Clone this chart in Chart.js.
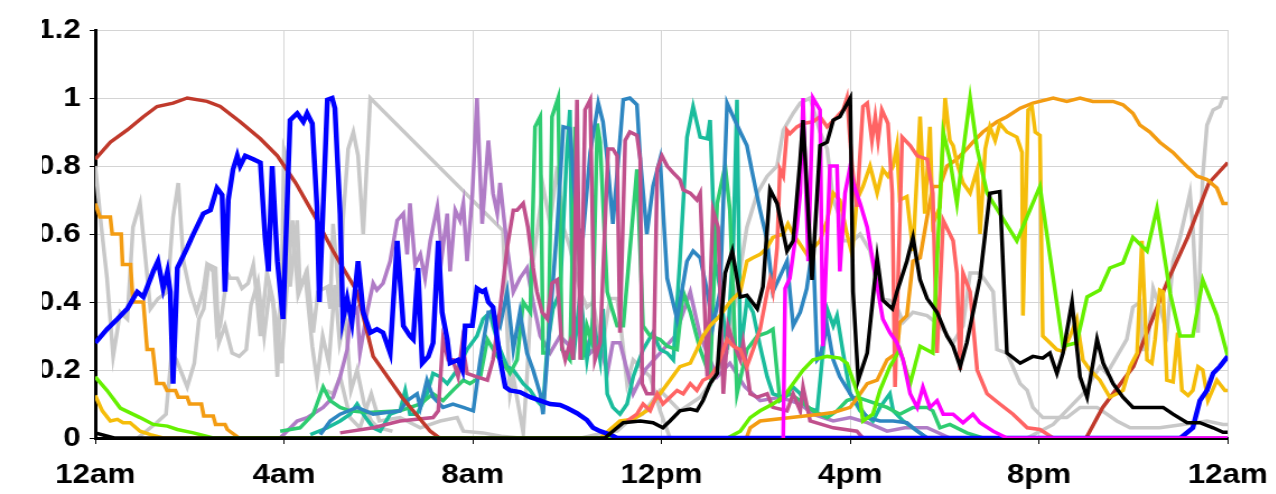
<!DOCTYPE html>
<html>
<head>
<meta charset="utf-8">
<script src="https://cdn.jsdelivr.net/npm/chart.js@4.4.0/dist/chart.umd.min.js"></script>
<style>
  html, body { margin: 0; padding: 0; background: #fff; }
  #wrap { position: absolute; left: 42px; top: 0; width: 1234px; height: 494px; overflow: hidden; }
  /* the source picture is a little wider than tall, so the drawing is stretched sideways */
  #chart { position: absolute; left: -42px; top: 0; transform: scaleX(1.12); transform-origin: 0 0; }
</style>
</head>
<body>
<div id="wrap"><canvas id="chart" width="1146" height="494"></canvas></div>
<script>
// hours of the day (0..24) and share values
var xTickLabels = ["12am", "4am", "8am", "12pm", "4pm", "8pm", "12am"];
var yTickLabels = ["0", "0.2", "0.4", "0.6", "0.8", "1", "1.2"];

var brown = [[0,0.82],[0.32,0.87],[0.68,0.906],[1.02,0.945],[1.31,0.975],[1.65,0.985],[1.95,1.0],[2.37,0.99],[2.65,0.975],
  [3.07,0.93],[3.5,0.88],[3.86,0.83],[4.25,0.75],[4.62,0.66],[5.04,0.55],[5.55,0.43],[5.89,0.24],[6.5,0.12],[7.1,0.02],[7.3,0],
  [21.0,0],[21.35,0.09],[22.0,0.21],[22.72,0.46],[23.15,0.59],[23.6,0.75],[24,0.81]];

var orange = [[0,0.69],[0.1,0.65],[0.32,0.65],[0.36,0.60],[0.55,0.60],[0.58,0.51],[0.75,0.51],[0.8,0.40],[1.02,0.40],[1.1,0.26],
  [1.22,0.26],[1.3,0.16],[1.45,0.16],[1.52,0.14],[1.7,0.14],[1.76,0.12],[1.95,0.12],[2.0,0.10],[2.25,0.10],[2.3,0.065],[2.5,0.065],
  [2.55,0.04],[2.75,0.04],[2.8,0.025],[3.05,0],[13.8,0],[13.88,0.03],[14.09,0.05],[15.36,0.07],[15.64,0.075],[16.0,0.09],[16.21,0.13],
  [16.36,0.16],[16.57,0.17],[16.78,0.23],[16.99,0.25],[17.05,0.34],[17.2,0.36],[17.33,0.52],[17.48,0.53],[17.63,0.65],[17.75,0.74],
  [17.9,0.74],[18.05,0.80],[18.26,0.82],[18.47,0.85],[18.6,0.87],[18.81,0.90],[19.11,0.93],[19.32,0.945],[19.6,0.97],[19.87,0.985],
  [20.3,1.0],[20.59,0.99],[20.87,1.0],[21.14,0.99],[21.57,0.99],[21.78,0.98],[21.99,0.955],[22.14,0.92],[22.35,0.90],[22.56,0.87],
  [22.84,0.84],[23.05,0.81],[23.35,0.77],[23.56,0.76],[23.77,0.735],[23.9,0.69],[24,0.69]];

var gold = [[0,0.125],[0.15,0.08],[0.32,0.05],[0.47,0.055],[0.59,0.045],[0.74,0.045],[0.95,0.02],[1.17,0.01],[1.44,0],[10.7,0],
  [11.12,0.05],[11.4,0.055],[11.69,0.08],[11.97,0.13],[12.18,0.17],[12.39,0.21],[12.61,0.22],[12.75,0.26],[12.88,0.30],[13.03,0.33],
  [13.24,0.36],[13.45,0.40],[13.67,0.43],[13.81,0.52],[13.94,0.53],[14.09,0.54],[14.24,0.56],[14.36,0.59],[14.58,0.60],[14.68,0.63],
  [14.79,0.60],[15.08,0.54],[15.36,0.58],[15.51,0.64],[15.64,0.72],[15.78,0.70],[15.93,0.60],[16.04,0.54],[16.14,0.70],[16.27,0.74],
  [16.42,0.80],[16.57,0.72],[16.69,0.79],[16.8,0.77],[16.91,0.80],[16.99,0.86],[17.05,0.70],[17.2,0.71],[17.33,0.55],[17.48,0.945],
  [17.58,0.66],[17.69,0.915],[17.75,0.63],[17.9,0.68],[18.01,1.0],[18.11,0.875],[18.18,0.86],[18.26,0.81],[18.39,0.75],[18.54,0.72],
  [18.69,0.79],[18.75,0.60],[18.86,0.85],[18.96,0.915],[19.07,0.875],[19.17,0.925],[19.32,0.90],[19.53,0.885],[19.64,0.84],[19.66,0.36],
  [19.77,0.965],[19.85,0.975],[19.92,0.90],[20.02,0.89],[20.08,0.30],[20.23,0.28],[20.38,0.26],[20.51,0.255],[20.66,0.30],[20.8,0.35],
  [20.93,0.23],[21.08,0.20],[21.29,0.17],[21.5,0.12],[21.65,0.13],[21.78,0.14],[21.93,0.21],[22.08,0.25],[22.18,0.58],[22.29,0.23],
  [22.39,0.22],[22.46,0.29],[22.56,0.435],[22.63,0.43],[22.71,0.17],[22.84,0.165],[22.94,0.31],[23.03,0.14],[23.16,0.125],[23.26,0.14],
  [23.37,0.21],[23.47,0.20],[23.58,0.11],[23.77,0.17],[23.94,0.14],[24,0.14]];

var lime = [[0,0.18],[0.25,0.14],[0.53,0.088],[0.95,0.06],[1.23,0.04],[1.53,0.035],[1.74,0.025],[2.08,0.015],[2.5,0],[13.4,0],
  [13.67,0.02],[13.88,0.06],[14.09,0.08],[14.36,0.10],[14.58,0.12],[14.79,0.16],[15.0,0.20],[15.21,0.23],[15.51,0.24],[15.78,0.235],
  [15.93,0.22],[16.06,0.17],[16.21,0.11],[16.27,0.05],[16.48,0.07],[16.63,0.14],[16.84,0.21],[17.05,0.26],[17.27,0.16],[17.48,0.27],
  [17.75,0.25],[17.84,0.52],[17.97,0.90],[18.11,0.82],[18.26,0.69],[18.39,0.84],[18.54,1.0],[18.69,0.85],[18.9,0.72],[19.17,0.66],
  [19.53,0.58],[20.02,0.74],[20.51,0.27],[20.8,0.28],[21.02,0.415],[21.29,0.435],[21.5,0.50],[21.78,0.515],[21.99,0.59],[22.29,0.55],
  [22.5,0.675],[22.78,0.425],[22.99,0.30],[23.26,0.30],[23.47,0.465],[23.77,0.36],[24,0.24]];

var blue = [[0,0.28],[0.25,0.32],[0.47,0.35],[0.68,0.38],[0.89,0.43],[1.02,0.415],[1.23,0.49],[1.33,0.52],[1.44,0.44],[1.53,0.49],
  [1.59,0.43],[1.65,0.16],[1.74,0.50],[1.95,0.56],[2.08,0.60],[2.29,0.66],[2.44,0.67],[2.58,0.735],[2.69,0.715],[2.75,0.43],[2.82,0.70],
  [2.92,0.79],[3.01,0.83],[3.07,0.80],[3.18,0.83],[3.35,0.82],[3.5,0.81],[3.6,0.59],[3.67,0.49],[3.75,0.80],[3.86,0.52],[3.98,0.35],
  [4.13,0.935],[4.28,0.955],[4.41,0.93],[4.49,0.955],[4.6,0.925],[4.7,0.68],[4.75,0.40],[4.92,0.995],[5.02,1.0],[5.08,0.97],[5.19,0.66],
  [5.25,0.35],[5.34,0.41],[5.44,0.34],[5.57,0.52],[5.68,0.37],[5.83,0.31],[5.97,0.32],[6.1,0.31],[6.25,0.25],[6.4,0.58],[6.53,0.33],
  [6.67,0.30],[6.74,0.29],[6.84,0.50],[6.93,0.22],[7.06,0.24],[7.16,0.28],[7.27,0.58],[7.35,0.37],[7.46,0.29],[7.52,0.22],[7.69,0.23],
  [7.78,0.20],[7.84,0.33],[7.99,0.33],[8.09,0.44],[8.2,0.43],[8.26,0.435],[8.33,0.40],[8.43,0.385],[8.58,0.23],[8.69,0.15],[8.79,0.14],
  [9.0,0.135],[9.22,0.12],[9.43,0.11],[9.64,0.10],[9.85,0.097],[10.0,0.088],[10.21,0.073],[10.42,0.053],[10.55,0.03],[10.7,0.02],
  [10.91,0.01],[11.06,0],[23.0,0],[23.26,0.03],[23.41,0.11],[23.56,0.14],[23.69,0.19],[23.83,0.21],[24,0.24]];

var black = [[0,0.015],[0.4,0],[10.8,0],[10.97,0.02],[11.19,0.045],[11.55,0.05],[11.82,0.045],[12.03,0.03],[12.18,0.05],[12.39,0.08],
  [12.61,0.085],[12.75,0.08],[12.88,0.11],[13.03,0.16],[13.18,0.19],[13.24,0.31],[13.35,0.485],[13.5,0.55],[13.6,0.47],[13.67,0.415],
  [13.81,0.42],[14.03,0.38],[14.15,0.445],[14.3,0.73],[14.45,0.69],[14.66,0.55],[14.79,0.58],[14.94,0.82],[15.0,0.935],[15.19,0.465],
  [15.36,0.86],[15.51,0.87],[15.64,0.935],[15.78,0.945],[16.0,1.0],[16.06,0.43],[16.17,0.17],[16.36,0.25],[16.57,0.53],[16.69,0.405],
  [16.89,0.38],[16.99,0.43],[17.2,0.52],[17.33,0.59],[17.48,0.465],[17.63,0.41],[17.84,0.37],[18.05,0.30],[18.18,0.27],[18.33,0.21],
  [18.47,0.28],[18.75,0.47],[18.96,0.72],[19.17,0.725],[19.32,0.25],[19.6,0.22],[19.87,0.24],[20.08,0.235],[20.23,0.25],[20.38,0.19],
  [20.51,0.25],[20.7,0.40],[20.87,0.18],[21.02,0.12],[21.23,0.29],[21.36,0.22],[21.57,0.16],[21.78,0.12],[21.99,0.09],[22.35,0.09],
  [22.63,0.09],[22.84,0.07],[23.14,0.045],[23.41,0.045],[23.69,0.03],[23.9,0.017],[24,0.017]];

var magenta = [[14.58,0],[14.62,0.44],[14.72,0.47],[14.87,0.62],[14.94,0.72],[15.0,1.0],[15.11,0.52],[15.21,1.0],[15.36,0.965],
  [15.42,0.27],[15.57,0.80],[15.72,0.80],[15.78,0.49],[15.89,0.72],[16.0,0.80],[16.06,0.75],[16.21,0.69],[16.36,0.62],[16.48,0.52],
  [16.69,0.35],[16.84,0.31],[16.99,0.28],[17.12,0.23],[17.27,0.13],[17.42,0.09],[17.54,0.15],[17.69,0.09],[17.84,0.11],[17.97,0.07],
  [18.18,0.07],[18.39,0.045],[18.6,0.07],[18.75,0.045],[19.03,0.02],[19.32,0],[24,0]];

var salmon = [[11.27,0.05],[11.48,0.07],[11.61,0.10],[11.76,0.08],[11.91,0.13],[12.03,0.10],[12.18,0.12],[12.33,0.14],[12.46,0.13],
  [12.61,0.16],[12.75,0.14],[12.88,0.17],[13.03,0.18],[13.18,0.21],[13.39,0.29],[13.52,0.27],[13.67,0.26],[13.81,0.21],[13.94,0.26],
  [14.09,0.32],[14.24,0.43],[14.3,0.465],[14.36,0.43],[14.45,0.56],[14.51,0.79],[14.58,0.77],[14.66,0.905],[14.72,0.895],[14.87,0.915],
  [15.0,0.925],[15.21,0.93],[15.36,0.945],[15.51,0.915],[15.72,0.945],[15.85,0.965],[15.93,1.0],[16.04,0.80],[16.14,0.68],[16.27,0.975],
  [16.36,0.985],[16.46,0.875],[16.53,0.945],[16.59,0.875],[16.67,0.965],[16.8,0.925],[16.89,0.72],[16.95,0.15],[17.1,0.885],[17.27,0.86],
  [17.42,0.83],[17.63,0.82],[17.75,0.72],[17.84,0.25],[17.97,0.64],[18.18,0.58],[18.26,0.485],[18.33,0.20],[18.39,0.485],[18.54,0.43],
  [18.69,0.20],[18.9,0.13],[19.17,0.10],[19.45,0.07],[19.75,0.03],[20.02,0.025],[20.3,0]];

var raspberry = [[5.19,0.015],[5.89,0.03],[6.46,0.05],[7.16,0.06],[7.27,0.08],[7.37,0.29],[7.48,0.23],[7.58,0.23],[7.69,0.18],[7.78,0.28],
  [7.88,0.19],[8.09,0.18],[8.31,0.17],[8.43,0.23],[8.58,0.38],[8.73,0.56],[8.86,0.67],[8.94,0.67],[9.07,0.69],[9.17,0.62],[9.28,0.50],
  [9.36,0.43],[9.47,0.37],[9.58,0.35],[9.68,0.455],[9.79,0.465],[9.89,0.27],[9.96,0.23],[10.06,0.28],[10.13,0.23],[10.21,0.995],
  [10.28,0.23],[10.38,0.965],[10.49,0.995],[10.59,0.23],[10.7,0.28],[10.87,0.85],[10.97,0.85],[11.06,0.83],[11.12,0.31],[11.23,0.875],
  [11.33,0.90],[11.48,0.89],[11.55,0.82],[11.59,0.16],[11.69,0.13],[11.82,0.13],[11.91,0.79],[12.01,0.83],[12.12,0.80],[12.25,0.78],
  [12.39,0.76],[12.46,0.73],[12.61,0.72],[12.75,0.70],[12.82,0.72],[12.97,0.18],[13.09,0.67],[13.2,0.62],[13.31,0.13],[13.41,0.33],
  [13.52,0.28],[13.67,0.23],[13.73,0.28],[13.88,0.13],[14.03,0.12],[14.24,0.13],[14.36,0.09],[14.66,0.08],[14.79,0.13],[14.94,0.08],
  [15.0,0.15],[15.15,0.05],[15.64,0.03],[16.14,0.02],[16.27,0]];

var steelblue = [[4.77,0.01],[4.98,0.05],[5.19,0.07],[5.55,0.09],[5.89,0.07],[6.46,0.08],[6.61,0.11],[6.82,0.13],[6.89,0.09],[7.03,0.17],
  [7.16,0.12],[7.37,0.09],[7.58,0.10],[7.8,0.09],[8.01,0.08],[8.16,0.23],[8.33,0.37],[8.43,0.37],[8.58,0.33],[8.73,0.43],[8.86,0.26],
  [9.0,0.37],[9.15,0.25],[9.28,0.20],[9.43,0.13],[9.49,0.07],[9.64,0.35],[9.79,0.62],[9.92,0.915],[10.06,0.91],[10.21,0.62],[10.34,0.60],
  [10.49,0.84],[10.66,0.985],[10.76,0.93],[10.85,0.82],[10.97,0.63],[11.12,0.875],[11.19,0.995],[11.33,1.0],[11.48,0.98],[11.55,0.82],
  [11.69,0.60],[11.82,0.74],[11.97,0.82],[12.12,0.47],[12.33,0.35],[12.54,0.52],[12.67,0.55],[12.82,0.53],[12.97,0.43],[13.09,0.33],
  [13.24,0.43],[13.39,0.985],[13.52,0.945],[13.67,0.90],[13.81,0.86],[13.94,0.77],[14.09,0.67],[14.24,0.58],[14.36,0.43],[14.66,0.52],
  [14.79,0.33],[14.94,0.37],[15.08,0.44],[15.21,0.57],[15.3,0.23],[15.36,0.24],[15.51,0.33],[15.64,0.23],[15.78,0.18],[16.0,0.13],
  [16.36,0.06],[16.63,0.05],[16.91,0.05],[17.2,0.045],[17.42,0.02],[17.63,0]];

var green = [[3.92,0.02],[4.34,0.03],[4.62,0.07],[4.83,0.15],[4.98,0.11],[5.19,0.09],[5.4,0.08],[5.76,0.075],[6.46,0.08],[6.89,0.10],
  [7.16,0.13],[7.37,0.11],[7.58,0.14],[7.8,0.17],[7.94,0.16],[8.16,0.18],[8.31,0.29],[8.52,0.24],[8.64,0.22],[8.79,0.19],[8.94,0.23],
  [9.07,0.40],[9.22,0.37],[9.32,0.915],[9.43,0.945],[9.49,0.25],[9.6,0.25],[9.68,0.945],[9.81,1.0],[9.89,0.26],[10.06,0.23],[10.17,0.915],
  [10.32,0.23],[10.42,0.33],[10.53,0.28],[10.64,0.925],[10.7,0.87],[10.85,0.43],[10.95,0.38],[11.06,0.33],[11.19,0.33],[11.48,0.79],
  [11.61,0.33],[11.76,0.30],[11.97,0.29],[12.12,0.27],[12.33,0.26],[12.46,0.43],[12.61,0.37],[12.82,0.26],[13.03,0.18],[13.18,0.69],
  [13.35,0.80],[13.45,0.67],[13.6,0.13],[13.81,0.26],[14.03,0.30],[14.24,0.31],[14.36,0.32],[14.51,0.11],[14.72,0.13],[14.94,0.11],
  [15.21,0.08],[15.51,0.06],[15.72,0.08],[15.93,0.11],[16.14,0.12],[16.36,0.11],[16.57,0.10],[16.78,0.09],[17.05,0.07],[17.33,0.09],
  [17.63,0.09],[17.75,0.08],[17.9,0.03],[18.11,0.04],[18.47,0.015],[18.81,0]];

var teal = [[4.56,0.01],[4.92,0.03],[5.19,0.05],[5.4,0.07],[5.55,0.10],[5.68,0.07],[5.89,0.03],[6.04,0.02],[6.25,0.07],[6.46,0.08],
  [6.57,0.14],[6.67,0.07],[6.82,0.07],[7.03,0.13],[7.16,0.19],[7.31,0.18],[7.46,0.16],[7.67,0.20],[7.88,0.26],[8.09,0.30],[8.22,0.35],
  [8.37,0.37],[8.43,0.33],[8.58,0.26],[8.73,0.21],[8.86,0.20],[9.07,0.16],[9.22,0.14],[9.36,0.11],[9.49,0.09],[9.58,0.27],[9.7,0.38],
  [9.85,0.43],[10.0,0.855],[10.06,0.965],[10.13,0.23],[10.28,0.43],[10.42,0.23],[10.55,0.35],[10.7,0.23],[10.76,0.38],[10.85,0.13],
  [10.97,0.09],[11.12,0.07],[11.27,0.10],[11.4,0.18],[11.61,0.26],[11.82,0.31],[11.97,0.26],[12.12,0.25],[12.25,0.23],[12.39,0.52],
  [12.54,0.885],[12.67,0.975],[12.82,0.885],[12.97,0.88],[13.03,0.935],[13.14,0.52],[13.24,0.44],[13.39,0.26],[13.52,0.56],[13.6,0.995],
  [13.67,0.25],[13.81,0.405],[13.94,0.37],[14.09,0.27],[14.24,0.18],[14.36,0.13],[14.58,0.12],[14.79,0.15],[14.94,0.13],[15.08,0.09],
  [15.3,0.08],[15.51,0.38],[15.64,0.33],[15.72,0.36],[15.85,0.25],[16.0,0.13],[16.21,0.08],[16.48,0.05],[16.63,0.09],[16.84,0.13],
  [16.91,0.08],[17.12,0.05],[17.33,0.03],[17.63,0]];

var purple = [[3.92,0],[4.28,0.05],[4.49,0.06],[4.83,0.09],[5.04,0.12],[5.19,0.18],[5.34,0.26],[5.4,0.35],[5.55,0.38],[5.61,0.25],
  [5.76,0.37],[5.89,0.455],[5.97,0.435],[6.1,0.455],[6.25,0.52],[6.4,0.64],[6.53,0.66],[6.61,0.54],[6.67,0.69],[6.78,0.51],[6.89,0.54],
  [6.99,0.47],[7.1,0.58],[7.25,0.68],[7.35,0.54],[7.46,0.66],[7.52,0.49],[7.63,0.67],[7.73,0.64],[7.8,0.69],[7.88,0.52],[7.99,0.71],
  [8.09,1.0],[8.2,0.63],[8.33,0.875],[8.43,0.72],[8.52,0.66],[8.58,0.75],[8.73,0.56],[8.86,0.43],[9.0,0.47],[9.15,0.50],[9.28,0.40],
  [9.43,0.30],[9.64,0.25],[9.85,0.30],[10.06,0.27],[10.28,0.33],[10.49,0.25],[10.7,0.28],[10.85,0.19],[10.97,0.28],[11.12,0.28],
  [11.4,0.13],[11.65,0.20],[11.97,0.25],[12.29,0.30],[12.61,0.43],[12.82,0.30],[13.18,0.18],[13.45,0.22],[13.77,0.15],[14.09,0.11],
  [14.51,0.12],[14.94,0.10],[15.21,0.07],[15.64,0.05],[16.0,0.06],[16.36,0.045],[16.78,0.02],[17.16,0.03],[17.63,0.03],[18.11,0]];

var greyA = [[0,0.80],[0.13,0.62],[0.25,0.47],[0.38,0.24],[0.53,0.37],[0.68,0.35],[0.8,0.62],[0.95,0.69],[1.17,0.38],[1.33,0.41],
  [1.53,0.43],[1.65,0.65],[1.76,0.75],[1.87,0.52],[2.01,0.43],[2.15,0.37],[2.29,0.435],[2.37,0.51],[2.5,0.49],[2.58,0.31],[2.65,0.33],
  [2.8,0.485],[2.86,0.47],[3.01,0.47],[3.11,0.44],[3.24,0.455],[3.35,0.51],[3.43,0.405],[3.5,0.30],[3.64,0.485],[3.77,0.405],[3.86,0.18],
  [3.96,0.52],[4.0,0.85],[4.07,0.82],[4.13,0.445],[4.28,0.64],[4.34,0.44],[4.49,0.49],[4.62,0.31],[4.72,0.43],[4.92,0.445],[4.98,0.38],
  [5.04,0.63],[5.19,0.385],[5.25,0.64],[5.36,0.85],[5.47,0.90],[5.57,0.83],[5.68,0.60],[5.83,1.0],[8.64,0.61],[8.79,0.13],[8.86,0.18],
  [9.07,0.015],[9.15,0.18],[9.28,0.52],[9.49,0.74],[9.64,0.63],[9.79,0.80],[9.92,0.62],[10.06,0.56],[10.28,0.43],[10.42,0.385],
  [10.55,0.40],[10.7,0.28],[10.76,0.28],[10.91,0.41],[11.06,0.41],[11.12,0.35],[11.27,0.16],[11.4,0.23],[11.55,0.21],[11.76,0.18],
  [11.97,0.08],[12.18,0]];

var greyB = [[0.9,0],[1.3,0.045],[1.5,0.07],[1.62,0.25],[1.72,0.23],[1.95,0.15],[2.1,0.22],[2.2,0.35],[2.3,0.38],[2.4,0.51],[2.55,0.50],
  [2.62,0.28],[2.75,0.33],[2.9,0.25],[3.05,0.24],[3.2,0.26],[3.3,0.39],[3.45,0.46],[3.58,0.30],[3.7,0.44],[3.82,0.36],[3.95,0.22],
  [4.05,0.42],[4.18,0.64],[4.3,0.42],[4.45,0.48],[4.6,0.27],[4.7,0.17],[4.82,0.30],[4.95,0.22],[5.08,0.45],[5.18,0.28],[5.3,0.36],
  [5.42,0.14],[5.55,0.20],[5.7,0.10],[5.85,0.05],[6.0,0.03],[6.3,0.02]];

var greyC = [[4.9,0.14],[5.04,0.13],[5.19,0.18],[5.4,0.06],[5.61,0.03],[5.85,0.13],[6.02,0.05],[6.46,0.06],[6.89,0.03],[7.31,0.05],
  [7.67,0.06],[7.8,0.02],[8.22,0.015],[8.6,0.005],[9.0,0],[10.3,0],[10.6,0.01],[11.06,0.02],[11.3,0.05],[11.6,0.07],[11.97,0.14],
  [12.39,0.08],[12.82,0.12],[13.09,0.17],[13.39,0.25],[13.6,0.44],[13.81,0.62],[14.03,0.72],[14.24,0.77],[14.45,0.80],[14.58,0.905],
  [14.79,0.955],[14.94,0.985],[15.15,1.0],[15.36,0.90],[15.51,0.85],[15.64,0.70],[15.78,0.65],[15.85,0.58],[16.06,0.58],[16.21,0.60],
  [16.42,0.55],[16.63,0.41],[16.84,0.405],[16.99,0.385],[17.12,0.34],[17.33,0.37],[17.63,0.36],[17.9,0.33],[18.18,0.28],[18.39,0.33],
  [18.54,0.485],[18.75,0.485],[19.03,0.43],[19.11,0.26],[19.32,0.25],[19.6,0.16],[19.75,0.14],[19.87,0.09],[20.08,0.06],[20.59,0.06],
  [20.87,0.09],[21.23,0.09],[21.44,0.07],[21.65,0.05],[21.93,0.03],[22.56,0.03],[23.05,0.04],[23.56,0.05],[23.9,0.04],[24,0.04]];

var greyD = [[19.75,0],[20.3,0.04],[20.93,0.13],[21.29,0.21],[21.44,0.19],[21.65,0.24],[21.86,0.29],[21.99,0.385],[22.14,0.40],
  [22.2,0.26],[22.29,0.26],[22.42,0.44],[22.56,0.385],[22.71,0.31],[22.84,0.52],[22.99,0.59],[23.2,0.72],[23.26,0.62],[23.37,0.31],
  [23.47,0.77],[23.56,0.92],[23.69,0.965],[23.83,0.975],[23.9,1.0],[24,1.0]];

var navy = [[3.0,0],[24,0]];

function line(data, color, width) {
    return {
        data: data,
        borderColor: color,
        borderWidth: width,
        pointRadius: 0,
        tension: 0,
        fill: false
    };
}

// first dataset is painted on top
var datasets = [
    line(black, "#000000", 3.5),
    line(magenta, "#ff00ff", 3.5),
    line(blue, "#0000ff", 4.5),
    line(lime, "#66f000", 3.5),
    line(salmon, "#ff6464", 3.5),
    line(gold, "#f5bd0a", 3.5),
    line(orange, "#f39c12", 3.5),
    line(brown, "#c0392b", 3.5),
    line(raspberry, "#c0508c", 3.5),
    line(steelblue, "#2e86c1", 3.5),
    line(green, "#2ecc71", 3.5),
    line(teal, "#1abc9c", 3.5),
    line(purple, "#b07cc6", 3.5),
    line(greyA, "#c8c8c8", 3.5),
    line(greyB, "#c8c8c8", 3.5),
    line(greyC, "#c8c8c8", 3.5),
    line(greyD, "#c8c8c8", 3.5),
    line(navy, "#1a1a80", 3)
];

var tickFont = { family: "'Liberation Sans', Arial, sans-serif", size: 28, weight: "bold" };

new Chart(document.getElementById("chart"), {
    type: "line",
    data: { datasets: datasets },
    options: {
        responsive: false,
        animation: false,
        layout: { padding: { top: 30, right: 0, bottom: 0, left: 0 } },
        plugins: { legend: { display: false }, tooltip: { enabled: false } },
        scales: {
            x: {
                type: "linear",
                min: 0,
                max: 24,
                afterFit: function(scale) { scale.height = 56; },
                ticks: {
                    stepSize: 4,
                    padding: 14,
                    color: "#000",
                    font: tickFont,
                    maxRotation: 0,
                    callback: function(value) { return xTickLabels[value / 4]; }
                },
                grid: { color: "#d4d4d4", borderDash: [2, 3], tickColor: "#000", tickLength: 6, tickBorderDash: [] },
                border: { color: "#000", width: 3 }
            },
            y: {
                min: 0,
                max: 1.2,
                afterFit: function(scale) { scale.width = 85; },
                ticks: {
                    stepSize: 0.2,
                    padding: 8,
                    color: "#000",
                    font: tickFont,
                    callback: function(value) { return yTickLabels[Math.round(value / 0.2)]; }
                },
                grid: { color: "#d4d4d4", borderDash: [2, 3], tickColor: "#000", tickLength: 5, tickBorderDash: [] },
                border: { color: "#000", width: 3 }
            }
        }
    }
});
</script>
</body>
</html>
